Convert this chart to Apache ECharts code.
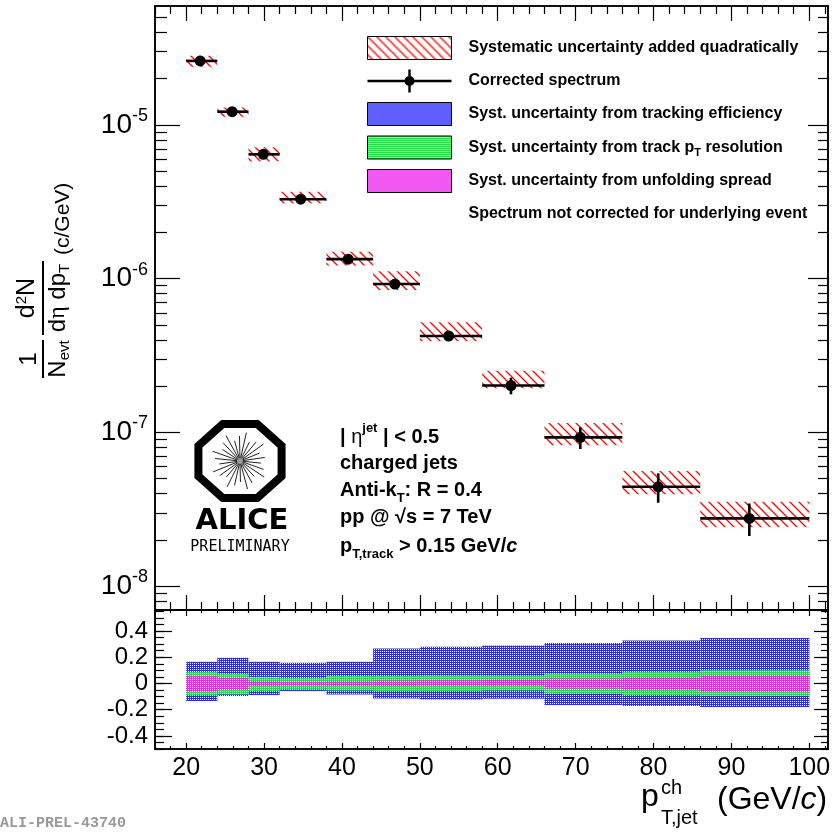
<!DOCTYPE html>
<html>
<head>
<meta charset="utf-8">
<script src="https://cdn.jsdelivr.net/npm/echarts@6/dist/echarts.min.js"></script>
<style>
html, body { margin: 0; padding: 0; background: #fff; }
#main { width: 840px; height: 835px; }
</style>
</head>
<body>
<div id="main"></div>
<script>
// jet pT bins (GeV/c)
var binLo = [20, 24, 28, 32, 38, 44, 50, 58, 66, 76, 86];
var binHi = [24, 28, 32, 38, 44, 50, 58, 66, 76, 86, 100];
var ptMean = [21.8, 25.9, 29.9, 34.7, 40.8, 46.8, 53.7, 61.7, 70.6, 80.6, 92.3];

// corrected spectrum, stat. error bars
var spectrum = [2.61e-5, 1.22e-5, 6.44e-6, 3.29e-6, 1.34e-6, 9.23e-7, 4.24e-7, 2.02e-7, 9.29e-8, 4.43e-8, 2.76e-8];
var statLow  = [2.55e-5, 1.19e-5, 6.25e-6, 3.19e-6, 1.30e-6, 8.90e-7, 4.05e-7, 1.77e-7, 7.80e-8, 3.49e-8, 2.12e-8];
var statHigh = [2.67e-5, 1.25e-5, 6.63e-6, 3.39e-6, 1.38e-6, 9.56e-7, 4.43e-7, 2.27e-7, 1.08e-7, 5.42e-8, 3.45e-8];

// total systematic box (added quadratically)
var sysLow  = [2.39e-5, 1.13e-5, 5.81e-6, 3.10e-6, 1.22e-6, 8.44e-7, 3.93e-7, 1.94e-7, 8.28e-8, 3.96e-8, 2.43e-8];
var sysHigh = [2.82e-5, 1.30e-5, 7.16e-6, 3.68e-6, 1.50e-6, 1.12e-6, 5.20e-7, 2.52e-7, 1.15e-7, 5.61e-8, 3.54e-8];

// relative systematic uncertainties (lower pad)
var trackUp = [0.165, 0.195, 0.165, 0.157, 0.165, 0.266, 0.279, 0.289, 0.309, 0.327, 0.347];
var trackDn = [0.134, 0.096, 0.089, 0.058, 0.084, 0.114, 0.122, 0.117, 0.165, 0.172, 0.180];
var resUp   = [0.089, 0.074, 0.050, 0.043, 0.056, 0.056, 0.061, 0.061, 0.076, 0.089, 0.101];
var resDn   = [0.091, 0.084, 0.058, 0.046, 0.053, 0.058, 0.058, 0.053, 0.079, 0.091, 0.096];
var unfUp   = [0.056, 0.043, 0.018, 0.010, 0.018, 0.023, 0.025, 0.028, 0.038, 0.048, 0.061];
var unfDn   = [0.058, 0.046, 0.020, 0.013, 0.020, 0.020, 0.018, 0.020, 0.038, 0.046, 0.063];

// tick labels
var xLabels = [20, 30, 40, 50, 60, 70, 80, 90, 100];
var yLogLabels = [1e-8, 1e-7, 1e-6, 1e-5];
var yRelLabels = [-0.4, -0.2, 0, 0.2, 0.4];

var FONT = 'Liberation Sans';

var xMinor = [];
for (var v = 16; v <= 102; v += 2) if (v % 10) xMinor.push(v);
var yLogMinor = [];
for (var e = -9; e <= -5; e++) for (var k = 2; k <= 9; k++) yLogMinor.push(k * Math.pow(10, e));
var yRelMinor = [];
for (var i = -10; i <= 11; i++) yRelMinor.push(Math.round(i * 5) / 100);

function patternFill(color, mask) {
	var c = document.createElement('canvas');
	c.width = 2; c.height = 2;
	var ctx = c.getContext('2d');
	ctx.fillStyle = color;
	mask.forEach(function (p) { ctx.fillRect(p[0], p[1], 1, 1); });
	return { image: c, repeat: 'repeat' };
}
function hatchFill() {
	var s = 9;
	var c = document.createElement('canvas');
	c.width = s; c.height = s;
	var ctx = c.getContext('2d');
	ctx.strokeStyle = '#ff0000';
	ctx.lineWidth = 1.3;
	ctx.beginPath();
	ctx.moveTo(-1, -1); ctx.lineTo(s + 1, s + 1);
	ctx.moveTo(s - 2, -2); ctx.lineTo(s + 2, 2);
	ctx.moveTo(-2, s - 2); ctx.lineTo(2, s + 2);
	ctx.stroke();
	return { image: c, repeat: 'repeat' };
}
var dense = [[0, 0], [1, 1], [1, 0]];
var hatch = hatchFill();
var blueFill = patternFill('#2a2aff', dense);
var greenFill = patternFill('#22dd44', dense);
var pinkFill = patternFill('#ee22ee', dense);

var L_SYS = 'Systematic uncertainty added quadratically';
var L_SPEC = 'Corrected spectrum';
var L_TRK = 'Syst. uncertainty from tracking efficiency';
var L_RES = 'Syst. uncertainty from track pT resolution';
var L_UNF = 'Syst. uncertainty from unfolding spread';
var L_UE = 'Spectrum not corrected for underlying event';

function axis(type, grid, pos, min, max, ticks, len, label) {
	var a = {
		type: type, gridIndex: grid, position: pos, min: min, max: max,
		axisLine: { show: true, onZero: false, lineStyle: { color: '#000', width: 1.6 } },
		axisTick: { show: true, inside: true, length: len, customValues: ticks, lineStyle: { color: '#000', width: 1.2 } },
		axisLabel: label || { show: false },
		splitLine: { show: false }
	};
	if (type === 'log') a.logBase = 10;
	return a;
}

var X0 = 16, X1 = 102.4;
var YMIN = 7e-9, YMAX = 5.94e-5;
var RMIN = -0.5, RMAX = 0.56;

var xAxes = [
	axis('value', 0, 'bottom', X0, X1, xLabels, 15),
	axis('value', 0, 'bottom', X0, X1, xMinor, 8),
	axis('value', 0, 'top', X0, X1, xLabels, 15),
	axis('value', 0, 'top', X0, X1, xMinor, 8),
	axis('value', 1, 'bottom', X0, X1, xLabels, 6, {
		show: true, customValues: xLabels, margin: 7,
		color: '#000', fontFamily: FONT, fontSize: 25
	}),
	axis('value', 1, 'bottom', X0, X1, xMinor, 3),
	axis('value', 1, 'top', X0, X1, xLabels, 6),
	axis('value', 1, 'top', X0, X1, xMinor, 3)
];
var yAxes = [
	axis('log', 0, 'left', YMIN, YMAX, yLogLabels, 25, {
		show: true, customValues: yLogLabels, margin: 7, color: '#000',
		formatter: function (val) {
			return '{b|10}{s|' + Math.round(Math.log10(val)) + '}';
		},
		rich: {
			b: { fontFamily: FONT, fontSize: 28, lineHeight: 36, color: '#000' },
			s: { fontFamily: FONT, fontSize: 18, lineHeight: 18, verticalAlign: 'top', color: '#000' }
		}
	}),
	axis('log', 0, 'left', YMIN, YMAX, yLogMinor, 12),
	axis('log', 0, 'right', YMIN, YMAX, yLogLabels, 20),
	axis('log', 0, 'right', YMIN, YMAX, yLogMinor, 10),
	axis('value', 1, 'left', RMIN, RMAX, yRelLabels, 17, {
		show: true, customValues: yRelLabels, margin: 7,
		color: '#000', fontFamily: FONT, fontSize: 24,
		formatter: function (val) { return val === 0 ? '0' : val.toFixed(1); }
	}),
	axis('value', 1, 'left', RMIN, RMAX, yRelMinor, 9),
	axis('value', 1, 'right', RMIN, RMAX, yRelLabels, 14),
	axis('value', 1, 'right', RMIN, RMAX, yRelMinor, 7)
];

function boxSeries(name, xi, yi, top, bottom, fill) {
	return {
		name: name, type: 'custom', xAxisIndex: xi, yAxisIndex: yi, clip: true,
		itemStyle: { color: fill },
		data: binLo.map(function (lo, i) { return [lo, binHi[i], top[i], bottom[i]]; }),
		encode: { x: [0, 1], y: [2, 3] },
		renderItem: function (params, api) {
			var a = api.coord([api.value(0), api.value(2)]);
			var b = api.coord([api.value(1), api.value(3)]);
			return {
				type: 'rect',
				shape: { x: a[0], y: a[1], width: b[0] - a[0], height: b[1] - a[1] },
				style: { fill: fill }
			};
		}
	};
}
function neg(arr) { return arr.map(function (d) { return -d; }); }

var specSeries = {
	name: L_SPEC, type: 'custom', xAxisIndex: 0, yAxisIndex: 0,
	itemStyle: { color: '#000' },
	data: ptMean.map(function (x, i) {
		return [x, spectrum[i], binLo[i], binHi[i], statLow[i], statHigh[i]];
	}),
	encode: { x: [0, 2, 3], y: [1, 4, 5] },
	renderItem: function (params, api) {
		var c = api.coord([api.value(0), api.value(1)]);
		var l = api.coord([api.value(2), api.value(1)]);
		var r = api.coord([api.value(3), api.value(1)]);
		var lo = api.coord([api.value(0), api.value(4)]);
		var hi = api.coord([api.value(0), api.value(5)]);
		var st = { stroke: '#000', lineWidth: 2.6 };
		return {
			type: 'group',
			children: [
				{ type: 'line', shape: { x1: l[0], y1: c[1], x2: r[0], y2: c[1] }, style: st },
				{ type: 'line', shape: { x1: c[0], y1: lo[1], x2: c[0], y2: hi[1] }, style: st },
				{ type: 'circle', shape: { cx: c[0], cy: c[1], r: 5.5 }, style: { fill: '#000' } }
			]
		};
	}
};

var specIcon = 'path://M0,10.3H84V12.7H0Z M40.8,0H43.2V23H40.8Z M37,11.5A5,5 0 1 1 47,11.5A5,5 0 1 1 37,11.5Z';

// text pieces drawn on the canvas
var annRich = {
	t: { fontFamily: FONT, fontWeight: 'bold', fontSize: 20, lineHeight: 30 },
	g: { fontFamily: FONT, fontSize: 20, lineHeight: 30 },
	sup: { fontFamily: FONT, fontWeight: 'bold', fontSize: 13, lineHeight: 14, verticalAlign: 'top' },
	sub: { fontFamily: FONT, fontWeight: 'bold', fontSize: 13, lineHeight: 14, verticalAlign: 'bottom' },
	it: { fontFamily: FONT, fontWeight: 'bold', fontStyle: 'italic', fontSize: 20, lineHeight: 30 }
};
var annLines = [
	['{t|| }{g|η}{sup|jet}{t| | < 0.5}', 437],
	['{t|charged jets}', 463],
	['{t|Anti-k}{sub|T}{t|: R = 0.4}', 490],
	['{t|pp @ √s = 7 TeV}', 517],
	['{t|p}{sub|T,track}{t| > 0.15 GeV/}{it|c}', 546]
];
var annotation = annLines.map(function (ln) {
	return {
		type: 'text', x: 340, y: ln[1],
		style: { text: ln[0], rich: annRich, verticalAlign: 'middle', align: 'left', fill: '#000' }
	};
});

function octagon(cx, cy, rx, ry) {
	var pts = [];
	for (var k = 0; k < 8; k++) {
		var a = (22.5 + 45 * k) * Math.PI / 180;
		pts.push([cx + rx * Math.cos(a), cy + ry * Math.sin(a)]);
	}
	return pts;
}
var logoCx = 240, logoCy = 461;
var spokes = [];
for (var s = 0; s < 26; s++) {
	var ang = s * 2 * Math.PI / 26 + 0.1;
	var rr = 21 + (s % 3) * 4;
	spokes.push({
		type: 'line',
		shape: {
			x1: logoCx + 3 * Math.cos(ang), y1: logoCy + 3 * Math.sin(ang),
			x2: logoCx + rr * Math.cos(ang), y2: logoCy + rr * Math.sin(ang)
		},
		style: { stroke: '#222', lineWidth: 1 }
	});
}
var logo = [
	{ type: 'polygon', shape: { points: octagon(logoCx, logoCy, 45, 40) }, style: { fill: 'none', stroke: '#000', lineWidth: 8 } },
	{ type: 'circle', shape: { cx: logoCx, cy: logoCy, r: 3 }, style: { fill: '#999' } },
	{ type: 'text', x: logoCx + 2, y: 521, style: { text: 'ALICE', font: 'bold 29px "DejaVu Sans"', fill: '#000', align: 'center', verticalAlign: 'middle' } },
	{ type: 'text', x: logoCx, y: 547, style: { text: 'PRELIMINARY', font: '15px "DejaVu Sans Mono"', fill: '#000', align: 'center', verticalAlign: 'middle' } }
].concat(spokes);

var yTitle = {
	type: 'group', x: 43, y: 380, rotation: Math.PI / 2,
	children: [
		{ type: 'line', shape: { x1: 2, y1: 0, x2: 40, y2: 0 }, style: { stroke: '#000', lineWidth: 2 } },
		{ type: 'text', x: 21, y: -2, style: { text: '1', font: '24px "Liberation Sans"', fill: '#000', align: 'center', verticalAlign: 'bottom' } },
		{ type: 'text', x: 21, y: 1, style: {
			text: '{b|N}{s|evt}', align: 'center', verticalAlign: 'top',
			rich: {
				b: { fontFamily: FONT, fontSize: 24, lineHeight: 28 },
				s: { fontFamily: FONT, fontSize: 15, lineHeight: 15, verticalAlign: 'bottom' }
			}
		} },
		{ type: 'line', shape: { x1: 45, y1: 0, x2: 119, y2: 0 }, style: { stroke: '#000', lineWidth: 2 } },
		{ type: 'text', x: 82, y: -2, style: {
			text: '{b|d}{s|2}{b|N}', align: 'center', verticalAlign: 'bottom',
			rich: {
				b: { fontFamily: FONT, fontSize: 25, lineHeight: 27 },
				s: { fontFamily: FONT, fontSize: 15, lineHeight: 15, verticalAlign: 'top' }
			}
		} },
		{ type: 'text', x: 82, y: 1, style: {
			text: '{b|d}{g|η}{b| dp}{s|T}', align: 'center', verticalAlign: 'top',
			rich: {
				b: { fontFamily: FONT, fontSize: 24, lineHeight: 28 },
				g: { fontFamily: 'Liberation Serif', fontSize: 24, lineHeight: 28 },
				s: { fontFamily: FONT, fontSize: 15, lineHeight: 15, verticalAlign: 'bottom' }
			}
		} },
		{ type: 'text', x: 125, y: 20, style: { text: '(c/GeV)', font: '21px "Liberation Sans"', fill: '#000', align: 'left', verticalAlign: 'middle' } }
	]
};

var xTitle = [
	{ type: 'text', x: 641, y: 797, style: { text: 'p', font: '32px "Liberation Sans"', fill: '#000', verticalAlign: 'middle' } },
	{ type: 'text', x: 661, y: 788, style: { text: 'ch', font: '20px "Liberation Sans"', fill: '#000', verticalAlign: 'middle' } },
	{ type: 'text', x: 661, y: 818, style: { text: 'T,jet', font: '20px "Liberation Sans"', fill: '#000', verticalAlign: 'middle' } },
	{ type: 'text', x: 717, y: 800, style: {
		text: '{b|(GeV/}{i|c}{b|)}', verticalAlign: 'middle',
		rich: {
			b: { fontFamily: FONT, fontSize: 32 },
			i: { fontFamily: FONT, fontSize: 32, fontStyle: 'italic' }
		}
	} }
];

var stamp = { type: 'text', x: 0, y: 823, style: { text: 'ALI-PREL-43740', font: 'bold 15px "Liberation Mono"', fill: '#999', verticalAlign: 'middle' } };

var chart = echarts.init(document.getElementById('main'));

var option = {
	backgroundColor: '#fff',
	animation: false,
	grid: [
		{ left: 155, top: 6, width: 673, height: 604 },
		{ left: 155, top: 610, width: 673, height: 139 }
	],
	xAxis: xAxes,
	yAxis: yAxes,
	legend: {
		orient: 'vertical', left: 367, top: 36, padding: 0,
		itemWidth: 84, itemHeight: 23, itemGap: 9.5,
		selectedMode: false,
		textStyle: {
			fontFamily: FONT, fontWeight: 'bold', fontSize: 16, color: '#000', padding: [0, 0, 0, 12],
			rich: {
				n: { fontFamily: FONT, fontWeight: 'bold', fontSize: 16, color: '#000', lineHeight: 22 },
				sub: { fontFamily: FONT, fontWeight: 'bold', fontSize: 11, color: '#000', lineHeight: 11, verticalAlign: 'bottom' }
			}
		},
		formatter: function (name) {
			if (name === L_RES) return '{n|Syst. uncertainty from track p}{sub|T}{n| resolution}';
			return name;
		},
		data: [
			{ name: L_SYS, icon: 'rect', itemStyle: { color: hatch, borderColor: '#000', borderWidth: 1 } },
			{ name: L_SPEC, icon: specIcon, itemStyle: { color: '#000', borderWidth: 0 } },
			{ name: L_TRK, icon: 'rect', itemStyle: { color: blueFill, borderColor: '#000', borderWidth: 1 } },
			{ name: L_RES, icon: 'rect', itemStyle: { color: greenFill, borderColor: '#000', borderWidth: 1 } },
			{ name: L_UNF, icon: 'rect', itemStyle: { color: pinkFill, borderColor: '#000', borderWidth: 1 } },
			{ name: L_UE, icon: 'none' }
		]
	},
	graphic: [yTitle, stamp].concat(xTitle, annotation, logo),
	series: [
		boxSeries(L_SYS, 0, 0, sysHigh, sysLow, hatch),
		specSeries,
		{ name: L_UE, type: 'line', xAxisIndex: 0, yAxisIndex: 0, data: [] },
		boxSeries(L_TRK, 4, 4, trackUp, neg(trackDn), blueFill),
		boxSeries(L_RES, 4, 4, resUp, neg(resDn), greenFill),
		boxSeries(L_UNF, 4, 4, unfUp, neg(unfDn), pinkFill)
	]
};

chart.setOption(option);

window.onresize = function () {
	chart.resize();
};
</script>
</body>
</html>
